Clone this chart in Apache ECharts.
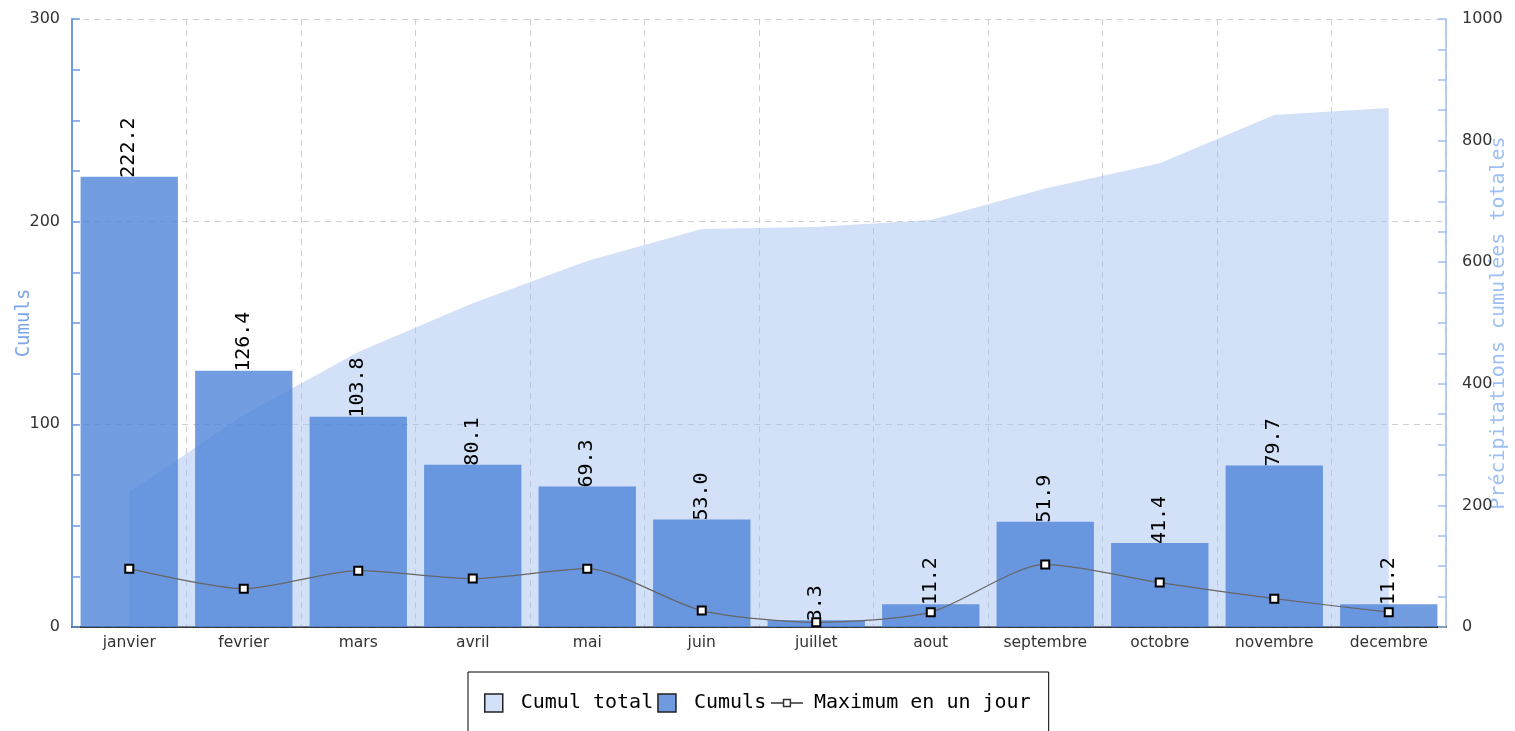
<!DOCTYPE html>
<html>
<head>
<meta charset="utf-8">
<script src="https://cdn.jsdelivr.net/npm/echarts@6/dist/echarts.min.js"></script>
<style>
html,body{margin:0;padding:0;background:#fff;}
#chart{width:1515px;height:731px;}
</style>
</head>
<body>
<div id="chart"></div>
<script>
const categories = ['janvier','fevrier','mars','avril','mai','juin','juillet','aout','septembre','octobre','novembre','decembre'];
const cumuls = [222.2, 126.4, 103.8, 80.1, 69.3, 53.0, 3.3, 11.2, 51.9, 41.4, 79.7, 11.2];
const cumulTotal = [222.2, 348.6, 452.4, 532.5, 601.8, 654.8, 658.1, 669.3, 721.2, 762.6, 842.3, 853.5];
const maxJour = [28.8, 18.9, 27.8, 23.9, 28.8, 8.1, 2.3, 7.3, 30.9, 21.9, 14.0, 7.3];

const mono = 'DejaVu Sans Mono';
const sans = 'DejaVu Sans';

const chart = echarts.init(document.getElementById('chart'), null, {renderer: 'canvas'});
chart.setOption({
  animation: false,
  backgroundColor: '#fff',
  grid: {left: 72, right: 69, top: 19, bottom: 104, containLabel: false, outerBoundsMode: 'none'},
  legend: {
    left: 468, top: 672,
    padding: [21, 18, 40, 16],
    borderColor: '#000', borderWidth: 1,
    itemWidth: 32, itemHeight: 18, itemGap: 4,
    symbolKeepAspect: true,
    textStyle: {fontFamily: mono, fontSize: 20, color: '#000', padding: [0, 0, 0, 6]},
    data: [
      {name: 'Cumul total', icon: 'path://M0,0h10v10h-10z', itemStyle: {color: '#d2e0f8', borderColor: '#222', borderWidth: 1.5}},
      {name: 'Cumuls', icon: 'path://M0,0h10v10h-10z', itemStyle: {color: '#6f9ae0', borderColor: '#222', borderWidth: 1.5}},
      {name: 'Maximum en un jour', icon: 'path://M0,5L11,5M11,2h6v6h-6zM17,5L28,5', itemStyle: {color: '#fff', borderColor: '#333', borderWidth: 1.5}}
    ]
  },
  xAxis: {
    type: 'category',
    data: categories,
    boundaryGap: true,
    axisLine: {lineStyle: {color: '#000', width: 1.5}},
    axisTick: {inside: true, length: 10, lineStyle: {color: '#000', width: 1.5}},
    axisLabel: {fontFamily: sans, fontSize: 15.5, color: '#333', margin: 8},
    splitLine: {show: true, lineStyle: {color: '#cfcfcf', type: [6, 5], width: 1}}
  },
  yAxis: [
    {
      type: 'value', min: 0, max: 300, interval: 100,
      name: 'Cumuls', nameLocation: 'middle', nameGap: 38, nameRotate: 90, nameMoveOverlap: false,
      nameTextStyle: {fontFamily: mono, fontSize: 19, color: '#7ea6ea'},
      axisLine: {show: true, lineStyle: {color: '#6d9be6', width: 2}},
      axisTick: {show: true, inside: true, length: 8, lineStyle: {color: '#6d9be6', width: 1.5}},
      minorTick: {show: true, splitNumber: 4, length: 8, lineStyle: {color: '#6d9be6', width: 1.5}},
      axisLabel: {fontFamily: sans, fontSize: 16, color: '#333', margin: 12},
      splitLine: {show: true, lineStyle: {color: '#cfcfcf', type: [6, 5], width: 1}}
    },
    {
      type: 'value', min: 0, max: 1000, interval: 200,
      name: 'Précipitations cumulées totales', nameLocation: 'middle', nameGap: 43, nameRotate: 90, nameMoveOverlap: false,
      nameTextStyle: {fontFamily: mono, fontSize: 20, color: '#9dbff4'},
      axisLine: {show: true, lineStyle: {color: '#9dbff4', width: 1.5}},
      axisTick: {show: true, inside: true, length: 8, lineStyle: {color: '#9dbff4', width: 1.5}},
      minorTick: {show: true, splitNumber: 4, length: 8, lineStyle: {color: '#9dbff4', width: 1.5}},
      axisLabel: {fontFamily: sans, fontSize: 16, color: '#333', margin: 16, formatter: v => String(v)},
      splitLine: {show: false}
    }
  ],
  series: [
    {
      name: 'Cumul total',
      type: 'line',
      yAxisIndex: 1,
      data: cumulTotal,
      showSymbol: false,
      symbol: 'none',
      lineStyle: {width: 0, color: '#d2e0f8'},
      itemStyle: {color: '#d2e0f8'},
      areaStyle: {color: 'rgba(165,194,241,0.5)', opacity: 1},
      z: 1
    },
    {
      name: 'Cumuls',
      type: 'bar',
      yAxisIndex: 0,
      data: cumuls,
      barCategoryGap: '15%',
      itemStyle: {color: 'rgba(74,129,215,0.78)'},
      label: {
        show: true, position: 'top', rotate: 90, align: 'left', verticalAlign: 'middle',
        distance: -1,
        fontFamily: mono, fontSize: 20, color: '#000',
        formatter: p => p.value.toFixed(1)
      },
      z: 2
    },
    {
      name: 'Maximum en un jour',
      type: 'line',
      yAxisIndex: 0,
      data: maxJour,
      smooth: 0.25,
      symbol: 'rect',
      symbolSize: 8,
      lineStyle: {color: '#666', width: 1.2},
      itemStyle: {color: '#fff', borderColor: '#000', borderWidth: 2},
      z: 3
    }
  ]
});
</script>
</body>
</html>
